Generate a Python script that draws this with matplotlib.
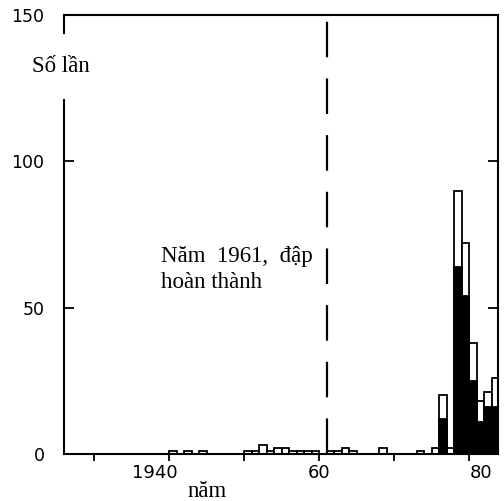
import matplotlib
matplotlib.use('Agg')
import matplotlib.pyplot as plt
from matplotlib.transforms import ScaledTranslation

# earthquakes per year (total) and the filled part of each bar
years = [1940, 1942, 1944, 1950, 1951, 1952, 1953, 1954, 1955, 1956, 1957, 1958,
         1959, 1961, 1962, 1963, 1964, 1968, 1973, 1975, 1976, 1977, 1978, 1979,
         1980, 1981, 1982, 1983]
totals = [1, 1, 1, 1, 1, 3, 1, 2, 2, 1, 1, 1,
          1, 1, 1, 2, 1, 2, 1, 2, 20, 2, 90, 72,
          38, 18, 21, 26]
filled = [0, 0, 0, 0, 0, 0, 0, 0, 0, 0, 0, 0,
          0, 0, 0, 0, 0, 0, 0, 0, 12, 0, 64, 54,
          25, 11, 16, 16]
dam_year = 1961

xticks = [1930, 1940, 1950, 1960, 1970, 1980]
xtick_labels = ['', '1940', '', '60', '', '80']
yticks = [0, 50, 100, 150]

serif = 'Liberation Serif'

fig = plt.figure(figsize=(5.04, 5.01), dpi=100)
ax = fig.add_axes([0.127, 0.094, 0.861, 0.876])

ax.bar(years, totals, width=1, align='edge', color='white', edgecolor='black', linewidth=1.3)
ax.bar(years, filled, width=1, align='edge', color='black', edgecolor='black', linewidth=1.3)

ax.axvline(dam_year, color='black', lw=1.6, dashes=(16, 9.5))

ax.set_xlim(1926.0, 1983.8)
ax.set_ylim(0, 150)

ax.set_xticks(xticks)
ax.set_xticklabels(xtick_labels)
ax.set_yticks(yticks)
ax.tick_params(axis='x', direction='out', length=5, width=1.3, pad=2, labelsize=13)
ax.tick_params(axis='y', direction='in', length=7, width=1.3, pad=14, labelsize=12.5, right=True)

# the printed year labels sit a little off their ticks
label_shift = [0, -14, 0, 0, 0, 12]
for lab, dx in zip(ax.get_xticklabels(), label_shift):
    lab.set_transform(lab.get_transform() + ScaledTranslation(dx / 100, 0, fig.dpi_scale_trans))

for s in ax.spines.values():
    s.set_linewidth(1.5)
# gap in the left axis where the label sits
ax.spines['left'].set_bounds(0, 121)
ax.axvline(1926.0, ymin=144 / 150, ymax=1, color='black', lw=1.5, clip_on=False)

ax.text(-0.074, 0.870, 'Số lần', transform=ax.transAxes, ha='left', va='baseline',
        family=serif, fontsize=16.5)
ax.text(0.329, -0.098, 'năm', transform=ax.transAxes, ha='center', va='baseline',
        family=serif, fontsize=16.5)
ax.text(0.2235, 0.437, 'Năm  1961,  đập', transform=ax.transAxes, ha='left', va='baseline',
        family=serif, fontsize=16.5)
ax.text(0.2235, 0.378, 'hoàn thành', transform=ax.transAxes, ha='left', va='baseline',
        family=serif, fontsize=16.5)

plt.savefig('out.png', dpi=100)
plt.close()
